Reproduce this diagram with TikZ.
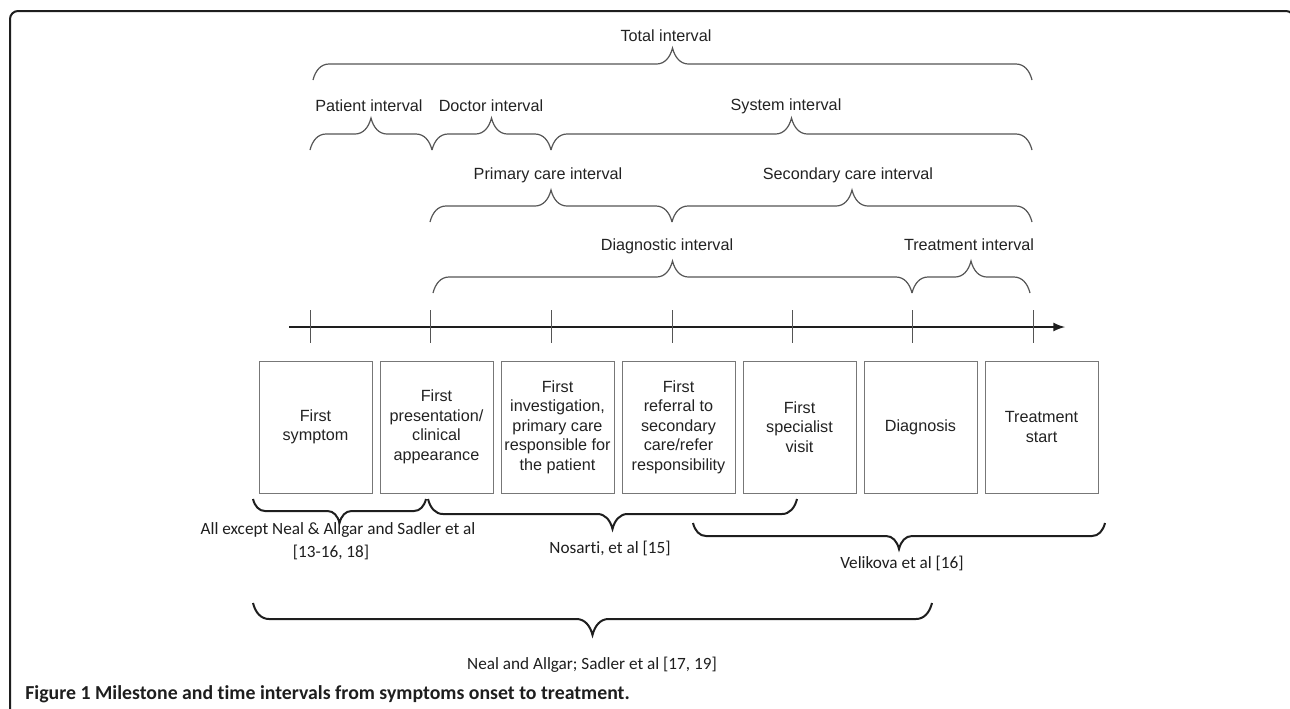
\documentclass[tikz,border=0pt]{standalone}
\usepackage{fontspec}
\setmainfont{Liberation Sans}
\newfontfamily\calibri[Ligatures=NoCommon]{Carlito}
\usetikzlibrary{arrows,positioning,decorations.pathreplacing}

\definecolor{framegray}{HTML}{1E1E1E}
\definecolor{linegray}{HTML}{555555}
\definecolor{boxgray}{HTML}{777777}
\definecolor{txtgray}{HTML}{222222}

\tikzset{
	milestone/.style={draw=boxgray, line width=0.5pt, minimum width=56.5pt, minimum height=66pt,
		inner sep=0pt, align=center, text=txtgray, font=\fontsize{8.1}{9.75}\selectfont},
	interval/.style={draw=linegray, line width=0.6pt, decorate,
		decoration={brace, amplitude=8pt, transform={yscale=2}}},
	ilabel/.style={anchor=base, inner sep=0pt, text=txtgray, font=\fontsize{8.1}{9.75}\selectfont},
	study/.style={draw=framegray, line width=1pt, decorate,
		decoration={brace, mirror, amplitude=#1, transform={yscale=2}}},
	slabel/.style={anchor=base, inner sep=0pt, align=center, text=framegray,
		font=\calibri\fontsize{8.6}{11.5}\selectfont},
	tick/.style={draw=linegray, line width=0.5pt}
}

\begin{document}
\begin{tikzpicture}[x=0.5pt, y=-0.5pt]
	\path[use as bounding box, clip] (0,0) rectangle (1290,708);
	% frame
	\draw[framegray, line width=1pt, rounded corners=4pt] (10,730) -- (10,11) -- (1294,11) -- (1294,730);

	% intervals above the time line
	\draw[interval] (313,80) -- (1032,80);
	\node[ilabel] (ltotal) at (666,41) {Total interval};
	\draw[interval] (310,150) -- (432,150);
	\node[ilabel] (lpatient) at (369,111) {Patient interval};
	\draw[interval] (432,150) -- (551,150);
	\node[ilabel] (ldoctor) at (491,111) {Doctor interval};
	\draw[interval] (551,150) -- (1032,150);
	\node[ilabel] (lsystem) at (786,110) {System interval};
	\draw[interval] (430,222) -- (672,222);
	\node[ilabel] (lprimary) at (548,179) {Primary care interval};
	\draw[interval] (672,222) -- (1032,222);
	\node[ilabel] (lsecondary) at (848,179) {Secondary care interval};
	\draw[interval] (433,293) -- (912,293);
	\node[ilabel] (ldiag) at (667,250) {Diagnostic interval};
	\draw[interval] (912,293) -- (1030,293);
	\node[ilabel] (ltreat) at (969,250) {Treatment interval};

	% time line
	\coordinate (start) at (289,327);
	\coordinate (end) at (1065,327);
	\draw[-latex, framegray, line width=1pt] (start) -- (end);
	\foreach \x in {310,430,551,672,792,912,1033}
		\draw[tick] (\x,310) -- (\x,343);

	% milestones
	\node[milestone] (m1) at (315.5,427) {First\\symptom};
	\node[milestone, right=3.5pt of m1] (m2) {First\\presentation/\\clinical\\appearance};
	\node[milestone, right=3.5pt of m2] (m3) {First\\investigation,\\primary care\\responsible for\\the patient};
	\node[milestone, right=3.5pt of m3] (m4) {First\\referral to\\secondary\\care/refer\\responsibility};
	\node[milestone, right=3.5pt of m4] (m5) {First\\specialist\\visit};
	\node[milestone, right=3.5pt of m5] (m6) {Diagnosis};
	\node[milestone, right=3.5pt of m6] (m7) {Treatment\\start};

	% studies below the milestones
	\draw[study=6pt] (253,499) -- (426,499);
	\node[slabel] (sall) at (338,534) {All except Neal \& Allgar and Sadler et al};
	\node[slabel] (sallref) at (331,557) {[13-16, 18]};
	\draw[study=7.5pt] (428,499) -- (797,499);
	\node[slabel] (snos) at (610,553) {Nosarti, et al [15]};
	\draw[study=6.5pt] (693,523) -- (1105,523);
	\node[slabel] (svel) at (902,568) {Velikova et al [16]};
	\draw[study=8pt] (253,603) -- (932,603);
	\node[slabel] (sneal) at (592,669) {Neal and Allgar; Sadler et al [17, 19]};

	% caption
	\node[anchor=base west, inner sep=0pt, text=framegray, font=\calibri\bfseries\fontsize{9.9}{11.5}\selectfont]
		(cap) at (25,699) {Figure 1 Milestone and time intervals from symptoms onset to treatment.};
\end{tikzpicture}
\end{document}
